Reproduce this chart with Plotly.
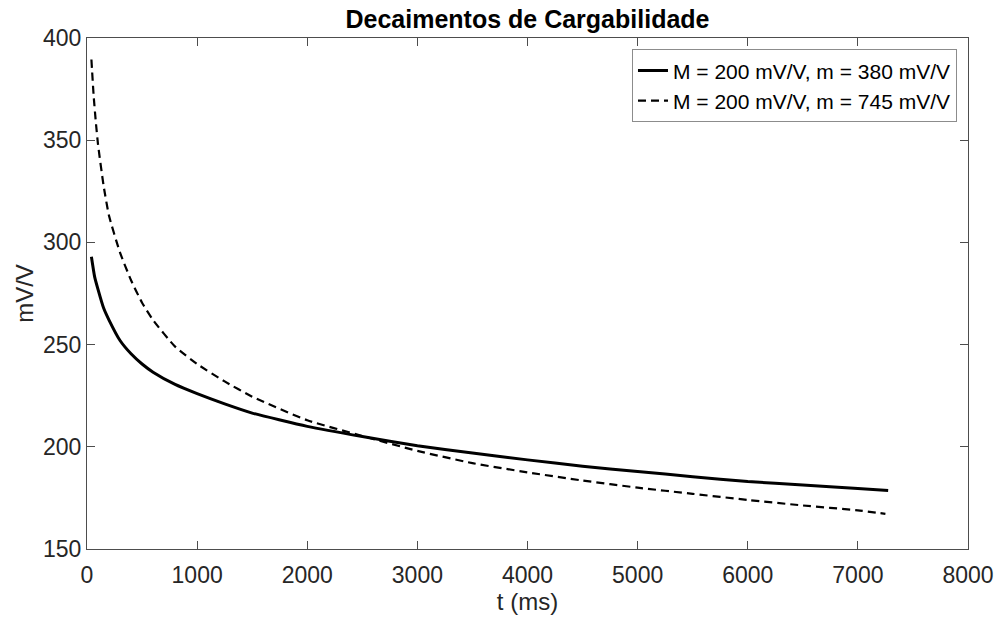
import plotly.graph_objects as go

# data
t_380 = [40, 70, 100, 150, 200, 300, 400, 500, 600, 800, 1000, 1250, 1500, 2000, 2500, 3000, 3500, 4000, 4500, 5000, 5500, 6000, 6500, 7000, 7275]
v_380 = [293, 283, 277, 268, 262, 252, 245.5, 240.5, 236.5, 230.5, 226, 221, 216.5, 210, 205, 200.5, 197, 193.6, 190.5, 187.9, 185.4, 183, 181.3, 179.6, 178.6]

t_745 = [40, 60, 80, 100, 150, 200, 300, 400, 500, 600, 800, 1000, 1250, 1500, 2000, 2500, 3000, 3500, 4000, 4500, 5000, 5500, 6000, 6500, 7000, 7250]
v_745 = [389.5, 372, 359, 348, 328, 313, 295, 281.5, 270.5, 262, 249, 240.5, 232, 224.5, 213, 205.3, 198, 192, 187.5, 183.5, 180, 177, 174, 171.3, 168.9, 167.2]

name_380 = "M = 200 mV/V, m = 380 mV/V"
name_745 = "M = 200 mV/V, m = 745 mV/V"

x_ticks = [0, 1000, 2000, 3000, 4000, 5000, 6000, 7000, 8000]
y_ticks = [150, 200, 250, 300, 350, 400]

FONT = "Arial, 'Liberation Sans', Helvetica, sans-serif"
AX = "#262626"

fig = go.Figure()
fig.add_trace(go.Scatter(x=t_380, y=v_380, mode="lines", name=name_380,
                         line=dict(color="black", width=3, shape="spline", smoothing=0.5)))
fig.add_trace(go.Scatter(x=t_745, y=v_745, mode="lines", name=name_745,
                         line=dict(color="black", width=2.2, dash="8px,5px", shape="spline", smoothing=0.5)))

axis_common = dict(showline=True, linecolor="#4d4d4d", linewidth=1, mirror="allticks",
                   ticks="inside", ticklen=8, tickcolor="#4d4d4d", showgrid=False, zeroline=False,
                   automargin=False,
                   tickfont=dict(family=FONT, size=23, color=AX))

fig.update_layout(
    width=995, height=621,
    margin=dict(l=87, r=27, t=38, b=72, autoexpand=False),
    paper_bgcolor="white", plot_bgcolor="white",
    title=dict(text="<b>Decaimentos de Cargabilidade</b>", x=0.5, xref="paper", xanchor="center",
               y=1 - 19 / 621, yref="container", yanchor="middle",
               font=dict(family=FONT, size=25, color="black")),
    xaxis=dict(range=[0, 8000], tickvals=x_ticks, ticktext=[str(v) for v in x_ticks],
               ticklabelstandoff=5,
               title=dict(text="t (ms)", font=dict(family=FONT, size=24, color=AX), standoff=4),
               **axis_common),
    yaxis=dict(range=[150, 400], tickvals=y_ticks, ticktext=[str(v) for v in y_ticks],
               title=dict(text="mV/V", font=dict(family=FONT, size=24, color=AX), standoff=2),
               **axis_common),
    legend=dict(x=0.9875, y=0.978, xanchor="right", yanchor="top",
                bgcolor="white", bordercolor="#8c8c8c", borderwidth=1,
                font=dict(family=FONT, size=21, color="black"),
                tracegroupgap=0, itemwidth=30),
    showlegend=True,
)

fig.write_html("out.html")
